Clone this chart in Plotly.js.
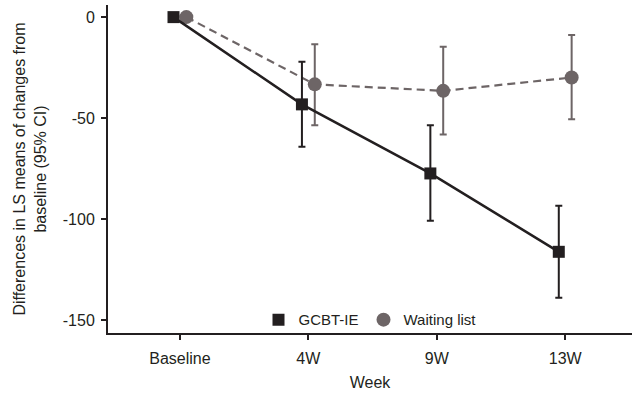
<!DOCTYPE html>
<html>
<head>
<meta charset="utf-8">
<script src="https://cdn.plot.ly/plotly-3.0.1.min.js"></script>
<style>html,body{margin:0;padding:0;background:#fff;}#chart{width:632px;height:398px;}</style>
</head>
<body>
<div id="chart"></div>
<script>
const weeks = ["Baseline", "4W", "9W", "13W"];
const gcbtMean = [0, -43.2, -77.4, -116.2];
const gcbtUpper = [0, -22.1, -53.5, -93.4];
const gcbtLower = [0, -64.2, -100.8, -139.0];
const waitMean = [0, -33.3, -36.5, -29.9];
const waitUpper = [0, -13.4, -14.7, -8.8];
const waitLower = [0, -53.5, -58.1, -50.6];
const yTickVals = [0, -50, -100, -150];
const yTickText = ["0", "-50", "-100", "-150"];

const dodge = 0.05;
const idx = weeks.map((_, i) => i);
const darkCol = "#231f20";
const grayCol = "#6d6566";

function errs(mean, up, lo) {
  return {
    type: "data", symmetric: false,
    array: mean.map((m, i) => up[i] - m),
    arrayminus: mean.map((m, i) => m - lo[i]),
    visible: true
  };
}

const traces = [
  {
    x: idx.map(i => i + dodge), y: waitMean, mode: "lines+markers", showlegend: false,
    line: {color: grayCol, width: 2.2, dash: "8px,5px"},
    marker: {symbol: "circle", size: 14, color: grayCol},
    error_y: Object.assign(errs(waitMean, waitUpper, waitLower), {color: grayCol, thickness: 2, width: 3.5})
  },
  {
    x: idx.map(i => i - dodge), y: gcbtMean, mode: "lines+markers", showlegend: false,
    line: {color: darkCol, width: 2.5},
    marker: {symbol: "square", size: 12, color: darkCol},
    error_y: Object.assign(errs(gcbtMean, gcbtUpper, gcbtLower), {color: darkCol, thickness: 2, width: 3.5})
  },
  {x: [null], y: [null], mode: "markers", name: "GCBT-IE", marker: {symbol: "square", size: 12, color: darkCol}},
  {x: [null], y: [null], mode: "markers", name: "Waiting list", marker: {symbol: "circle", size: 14, color: grayCol}}
];

const layout = {
  width: 632, height: 398,
  margin: {l: 108, r: 0, t: 5, b: 65},
  paper_bgcolor: "#fff", plot_bgcolor: "#fff",
  font: {family: "Liberation Sans, Arial, sans-serif", size: 16, color: darkCol},
  showlegend: true,
  legend: {orientation: "h", x: 0.5, xanchor: "center", y: 0.04, yanchor: "middle",
           bgcolor: "rgba(0,0,0,0)", font: {size: 15, color: darkCol}, itemwidth: 30, tracegroupgap: 0},
  xaxis: {
    range: [-0.56, 3.52], tickmode: "array", tickvals: idx, ticktext: weeks,
    showgrid: false, zeroline: false, showline: true, linecolor: darkCol, linewidth: 2,
    ticks: "outside", ticklen: 5, tickwidth: 2, tickcolor: darkCol, ticklabelstandoff: 5,
    tickfont: {size: 16, color: darkCol},
    title: {text: "Week", standoff: 11, font: {size: 16, color: darkCol}}
  },
  yaxis: {
    range: [-156.4, 6], tickmode: "array", tickvals: yTickVals, ticktext: yTickText,
    showgrid: false, zeroline: false, showline: true, linecolor: darkCol, linewidth: 2,
    ticks: "outside", ticklen: 5, tickwidth: 2, tickcolor: darkCol, ticklabelstandoff: 3,
    tickfont: {size: 16, color: darkCol},
    title: {text: "Differences in LS means of changes from<br>baseline (95% CI)", standoff: 12, font: {size: 16, color: darkCol}}
  }
};

Plotly.newPlot("chart", traces, layout, {displayModeBar: false, staticPlot: true});
</script>
</body>
</html>
